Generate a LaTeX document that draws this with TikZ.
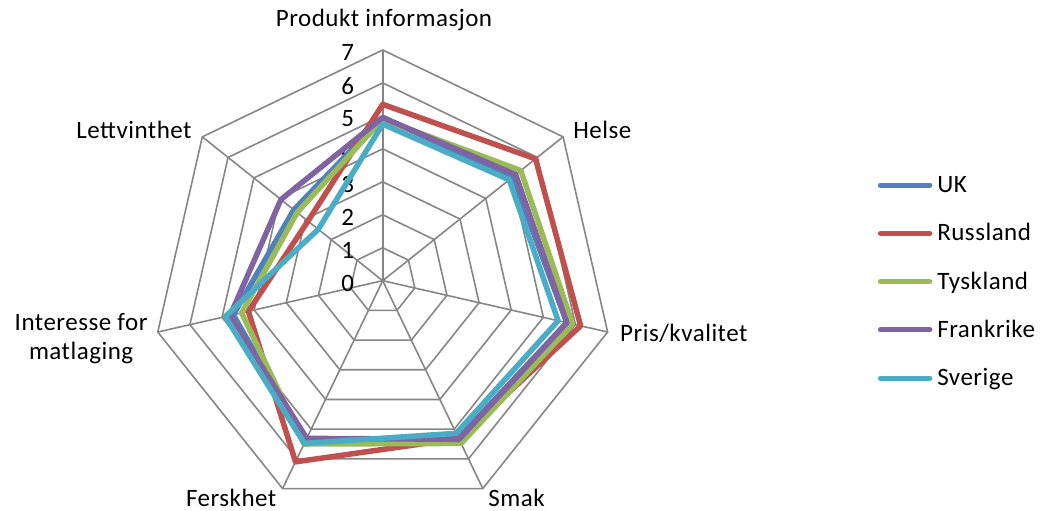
\documentclass[tikz,border=0pt]{standalone}
\usepackage{fontspec}
\setmainfont{Carlito}[LetterSpace=2]
\usetikzlibrary{calc}
\definecolor{gridgray}{HTML}{868686}
\definecolor{ukblue}{HTML}{4F81BD}
\definecolor{russred}{HTML}{C0504D}
\definecolor{tyskgreen}{HTML}{9BBB59}
\definecolor{frankpurple}{HTML}{8064A2}
\definecolor{sverteal}{HTML}{4BACC6}

\begin{document}
\begin{tikzpicture}[x=32.96pt,y=32.96pt,every node/.style={font=\fontsize{25}{29.3}\selectfont,inner sep=0pt},gridline/.style={draw=gridgray,line width=1.6pt},serie/.style={line width=5.5pt,line join=round},ukline/.style={serie,draw=ukblue},russline/.style={serie,draw=russred},tyskline/.style={serie,draw=tyskgreen},frankline/.style={serie,draw=frankpurple},sverline/.style={serie,draw=sverteal},legline/.style={line width=5pt,line cap=round},
%scale=0.7, transform shape
]
\useasboundingbox (-11.611,-6.987) rectangle (20.003,8.516);
\coordinate (ctr) at (0,0);
\foreach \i in {0,...,6}
   \coordinate (ax\i) at (90-\i*360/7:7);
\foreach \k in {1,...,7}
   \draw[gridline] (90:\k) \foreach \i in {1,...,6} { -- (90-\i*360/7:\k) } -- cycle;
\foreach \i in {0,...,6}
   \draw[gridline] (ctr) -- (ax\i);
\foreach \k in {0,...,7}
   \node[anchor=east] (tick\k) at (-0.86,\k-0.09) {\k};

\draw[ukline] (90:4.95) -- (38.57:5.05) -- (-12.86:5.73) -- (-64.29:5.3) -- (-115.71:5.4) -- (-167.14:4.65) -- (141.43:3.45) -- cycle;
\draw[russline] (90:5.35) -- (38.57:5.93) -- (-12.86:6.16) -- (-64.29:5.32) -- (-115.71:6.1) -- (-167.14:4.18) -- (141.43:2.9) -- cycle;
\draw[tyskline] (90:4.9) -- (38.57:5.36) -- (-12.86:5.91) -- (-64.29:5.48) -- (-115.71:5.5) -- (-167.14:4.39) -- (141.43:3.32) -- cycle;
\draw[frankline] (90:4.95) -- (38.57:5.16) -- (-12.86:5.73) -- (-64.29:5.34) -- (-115.71:5.31) -- (-167.14:4.75) -- (141.43:3.95) -- cycle;
\draw[sverline] (90:4.75) -- (38.57:4.91) -- (-12.86:5.46) -- (-64.29:5.14) -- (-115.71:5.48) -- (-167.14:4.9) -- (141.43:2.5) -- cycle;

\node[anchor=base] (produkt) at (0.04,7.70) {Produkt informasjon};
\node[anchor=base west] (helse) at (5.78,4.32) {Helse};
\node[anchor=base west] (pris) at (7.20,-1.85) {Pris/kvalitet};
\node[anchor=base west] (smak) at (3.20,-6.86) {Smak};
\node[anchor=base east] (ferskhet) at (-3.22,-6.86) {Ferskhet};
\node[align=center] (interesse) at (-9.15,-1.75) {Interesse for\\matlaging};
\node[anchor=base east] (lettvinthet) at (-5.79,4.32) {Lettvinthet};

\foreach \nm/\sty/\txt [count=\j from 0] in {uk/ukline/UK,russ/russline/Russland,tysk/tyskline/Tyskland,frank/frankline/Frankrike,sver/sverline/Sverige} {
   \coordinate (leg\nm a) at (15.10,2.90-\j*1.465);
   \coordinate (leg\nm b) at (16.60,2.90-\j*1.465);
   \draw[\sty,legline] (leg\nm a) -- (leg\nm b);
   \node[anchor=base west] (leg\nm) at (16.82,2.67-\j*1.465) {\txt};
}
\end{tikzpicture}
\end{document}
